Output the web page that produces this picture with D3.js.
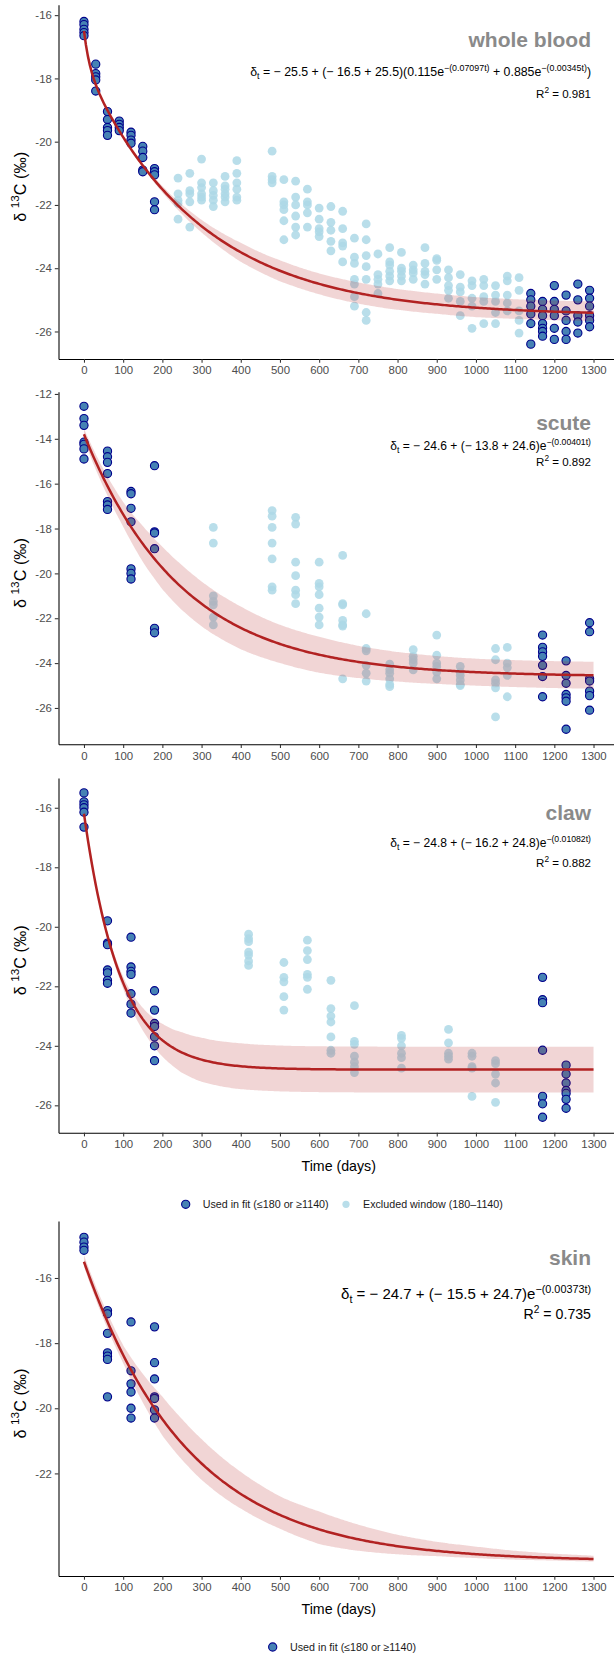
<!DOCTYPE html>
<html>
<head>
<meta charset="utf-8">
<script src="https://cdn.jsdelivr.net/npm/d3@7"></script>
<style>
  body { margin: 0; background: #fff; }
  text { font-family: "Liberation Sans", Arial, Helvetica, sans-serif; white-space: pre; }
</style>
</head>
<body>
<svg id="chart" width="614" height="1656"></svg>
<script>
// ---- data ----
var panelNames = ['whole blood', 'scute', 'claw', 'skin'];
var r2Values = ['0.981', '0.892', '0.882', '0.735'];

// fitted parameters: [asymptote, initial, k1, k2, share1]
var wbFit = [-25.5, -16.5, 0.07097, 0.00345, 0.115];
var scuteFit = [-24.6, -13.8, 0.00401];
var clawFit = [-24.8, -16.2, 0.01082];
var skinFit = [-24.7, -15.5, 0.00373];

// confidence band half widths (upper / lower offsets from the fit)
var bandTimes = [0, 50, 100, 150, 200, 250, 300, 400, 500, 600, 700, 800, 900, 1000, 1100, 1200, 1300];
var wbBandHi = [0.03, 0.03, 0.04, 0.06, 0.1, 0.15, 0.2, 0.3, 0.33, 0.33, 0.34, 0.34, 0.34, 0.33, 0.34, 0.35, 0.36];
var wbBandLo = [0.03, 0.03, 0.04, 0.06, 0.1, 0.15, 0.2, 0.3, 0.33, 0.33, 0.33, 0.32, 0.3, 0.3, 0.28, 0.27, 0.26];
var scuteBandHi = [0.25, 0.4, 0.55, 0.8, 0.95, 1.0, 1.0, 0.95, 0.85, 0.8, 0.72, 0.66, 0.62, 0.6, 0.6, 0.6, 0.6];
var scuteBandLo = [0.25, 0.4, 0.55, 0.8, 0.95, 1.0, 1.0, 0.95, 0.85, 0.8, 0.72, 0.66, 0.62, 0.6, 0.6, 0.6, 0.6];
var clawBandHi = [0.08, 0.1, 0.2, 0.38, 0.55, 0.68, 0.74, 0.77, 0.77, 0.77, 0.77, 0.77, 0.77, 0.77, 0.77, 0.77, 0.77];
var clawBandLo = [0.08, 0.1, 0.2, 0.38, 0.55, 0.68, 0.74, 0.77, 0.77, 0.77, 0.77, 0.77, 0.77, 0.77, 0.77, 0.77, 0.77];
var skinBandHi = [0.2, 0.25, 0.3, 0.5, 0.7, 0.75, 0.75, 0.68, 0.57, 0.55, 0.45, 0.35, 0.28, 0.23, 0.17, 0.13, 0.1];
var skinBandLo = [0.15, 0.2, 0.25, 0.38, 0.5, 0.5, 0.5, 0.45, 0.42, 0.45, 0.35, 0.25, 0.16, 0.12, 0.1, 0.08, 0.08];

var wbTimes = [0, 30, 60, 90, 120, 150, 180, 240, 270, 300, 330, 360, 390, 480, 510, 540, 570, 600, 630, 660, 690,
  720, 750, 780, 810, 840, 870, 900, 930, 960, 990, 1020, 1050, 1080, 1110, 1140, 1170, 1200, 1230, 1260, 1290];
var wbValues = [
  [-16.2, -16.3, -16.45, -16.55, -16.65],
  [-17.55, -17.85, -17.95, -18.05, -18.4],
  [-19.05, -19.3, -19.55, -19.65, -19.8],
  [-19.35, -19.45, -19.55, -19.65],
  [-19.7, -19.8, -19.95, -20.05],
  [-20.15, -20.3, -20.5, -20.9, -20.95],
  [-20.85, -20.95, -21.05, -21.9, -22.15],
  [-21.15, -21.65, -21.85, -21.95, -22.45],
  [-21.0, -21.55, -21.65, -21.9, -22.7],
  [-20.55, -21.3, -21.45, -21.65, -21.75, -21.85],
  [-21.3, -21.55, -21.7, -21.85, -22.05],
  [-21.1, -21.4, -21.5, -21.65, -21.75, -21.9],
  [-20.6, -21.0, -21.3, -21.5, -21.75, -21.85],
  [-20.3, -21.1, -21.2, -21.3],
  [-21.2, -21.9, -22.0, -22.15, -22.5, -23.1],
  [-21.25, -21.75, -22.0, -22.35, -22.7, -22.95],
  [-21.5, -21.9, -22.0, -22.25, -22.7],
  [-22.1, -22.45, -22.75, -22.85, -23.0],
  [-22.05, -22.55, -22.8, -23.15, -23.45],
  [-22.2, -22.75, -23.2, -23.3, -23.8],
  [-23.05, -23.65, -23.85, -24.35, -24.5, -24.9, -25.2],
  [-22.6, -23.1, -23.6, -23.95, -24.35, -25.4, -25.65],
  [-23.55, -24.2, -24.35, -24.5, -24.8],
  [-23.35, -23.8, -23.9, -24.1, -24.25, -24.4],
  [-23.5, -24.0, -24.1, -24.25, -24.4],
  [-23.9, -24.05, -24.15, -24.35],
  [-23.35, -23.85, -24.1, -24.2, -24.5],
  [-23.7, -23.75, -24.05, -24.35],
  [-24.05, -24.3, -24.55, -24.7, -24.95],
  [-24.2, -24.6, -24.75, -25.05, -25.5],
  [-24.4, -24.55, -24.95, -25.2, -25.9],
  [-24.35, -24.55, -24.9, -25.05, -25.75],
  [-24.55, -24.85, -25.05, -25.4, -25.75],
  [-24.25, -24.4, -24.85, -25.1, -25.35],
  [-24.3, -24.7, -25.35, -25.65, -26.05],
  [-24.8, -25.0, -25.2, -25.45, -25.75, -26.4],
  [-25.05, -25.3, -25.5, -25.75, -25.9, -26.0, -26.15],
  [-24.55, -25.05, -25.3, -25.5, -25.9, -26.25],
  [-24.85, -25.35, -25.65, -26.0, -26.25],
  [-24.5, -25.0, -25.5, -25.7, -26.05],
  [-24.7, -24.95, -25.2, -25.5, -25.65, -25.85]
];

var scuteTimes = [0, 60, 120, 180, 330, 480, 540, 600, 660, 720, 780, 840, 900, 960, 1050, 1080, 1170, 1230, 1290];
var scuteValues = [
  [-12.55, -13.1, -13.4, -14.15, -14.25, -14.45, -14.9],
  [-14.55, -14.8, -15.05, -15.55, -16.8, -16.95, -17.15],
  [-16.35, -16.45, -17.1, -17.7, -19.8, -20.0, -20.25],
  [-15.2, -18.15, -18.2, -18.9, -22.45, -22.65],
  [-17.95, -18.65, -21.0, -21.25, -21.4, -21.95, -22.3],
  [-17.2, -17.45, -17.95, -18.65, -19.35, -20.6, -20.75],
  [-17.5, -17.8, -19.5, -20.1, -20.75, -20.95, -21.35],
  [-19.5, -20.45, -20.6, -20.95, -21.55, -21.95, -22.3],
  [-19.2, -21.35, -21.4, -22.1, -22.3, -22.35, -24.7],
  [-21.8, -23.35, -23.45, -24.1, -24.45, -24.8],
  [-24.05, -24.3, -24.45, -24.7, -24.95, -25.05],
  [-23.4, -23.7, -23.85, -24.0, -24.3],
  [-22.75, -23.65, -24.0, -24.15, -24.4, -24.7],
  [-24.15, -24.4, -24.55, -24.75, -24.95, -25.0],
  [-23.35, -23.85, -24.75, -24.9, -25.1, -26.4],
  [-23.3, -24.0, -24.2, -24.55, -25.5],
  [-22.75, -23.3, -23.5, -23.7, -24.1, -24.6, -25.5],
  [-23.9, -24.55, -24.9, -25.4, -25.55, -25.7, -26.95],
  [-22.2, -22.6, -24.7, -24.8, -25.25, -25.45, -26.1]
];

var clawTimes = [0, 60, 120, 180, 420, 510, 570, 630, 690, 810, 930, 990, 1050, 1170, 1230];
var clawValues = [
  [-15.5, -15.8, -15.9, -16.0, -16.15, -16.65],
  [-19.8, -20.55, -20.6, -21.45, -21.55, -21.8, -21.9],
  [-20.35, -21.35, -21.5, -21.6, -22.25, -22.6, -22.9],
  [-22.15, -22.8, -23.25, -23.35, -23.7, -24.0, -24.5],
  [-20.25, -20.4, -20.5, -20.85, -20.95, -21.15, -21.3],
  [-21.2, -21.7, -21.85, -22.35, -22.8],
  [-20.45, -20.8, -21.1, -21.6, -21.7, -22.1],
  [-21.8, -22.75, -23.0, -23.2, -23.7, -24.15, -24.25],
  [-22.65, -23.85, -23.95, -24.35, -24.55, -24.7, -24.9],
  [-23.65, -23.75, -24.0, -24.25, -24.4, -24.75],
  [-23.45, -23.9, -24.25, -24.35, -24.45],
  [-24.25, -24.35, -24.7, -24.75, -25.7],
  [-24.5, -24.6, -24.95, -25.25, -25.9],
  [-21.7, -22.45, -22.55, -24.15, -25.7, -25.95, -26.4],
  [-24.65, -24.95, -25.25, -25.5, -25.6, -25.8, -26.1]
];

var skinTimes = [0, 60, 120, 180];
var skinValues = [
  [-14.75, -14.9, -15.05, -15.15],
  [-17.0, -17.1, -17.7, -18.3, -18.4, -18.5, -19.65],
  [-17.35, -18.85, -19.25, -19.5, -20.0, -20.3],
  [-17.5, -18.6, -19.1, -19.65, -19.7, -20.05, -20.3]
];

var xTicks = d3.range(0, 1301, 100);
var yTicks = [
  [-26, -24, -22, -20, -18, -16],
  [-26, -24, -22, -20, -18, -16, -14, -12],
  [-26, -24, -22, -20, -18, -16],
  [-22, -20, -18, -16]
];
var yDomains = [[-26.87, -15.67], [-27.62, -11.9], [-26.92, -15.0], [-25.15, -14.25]];

// fit functions built from the printed equations
function oneExp(p) {
  return function (t) { return p[0] + (p[1] - p[0]) * Math.exp(-p[2] * t); };
}
function twoExp(p) {
  return function (t) {
    return p[0] + (p[1] - p[0]) * (p[4] * Math.exp(-p[2] * t) + (1 - p[4]) * Math.exp(-p[3] * t));
  };
}

// equation text pieces: [text, kind]
var eqParts = [
  [['δ', 'n'], ['t', 'sub'], [' = \u2212 25.5 + (\u2212 16.5 + 25.5)(0.115e', 'n'], ['\u2212(0.07097t)', 'sup'],
   [' + 0.885e', 'n'], ['\u2212(0.00345t)', 'sup'], [')', 'n']],
  [['δ', 'n'], ['t', 'sub'], [' = \u2212 24.6 + (\u2212 13.8 + 24.6)e', 'n'], ['\u2212(0.00401t)', 'sup']],
  [['δ', 'n'], ['t', 'sub'], [' = \u2212 24.8 + (\u2212 16.2 + 24.8)e', 'n'], ['\u2212(0.01082t)', 'sup']],
  [['δ', 'n'], ['t', 'sub'], [' = \u2212 24.7 + (\u2212 15.5 + 24.7)e', 'n'], ['\u2212(0.00373t)', 'sup']]
];

var panels = [
  { times: wbTimes, values: wbValues, f: twoExp(wbFit), hi: wbBandHi, lo: wbBandLo,
    top: 4.7, bottom: 359, titleY: 46.7, eqY: 76, r2Y: 97.7, eqW: 341, r2W: 55, xTitle: false },
  { times: scuteTimes, values: scuteValues, f: oneExp(scuteFit), hi: scuteBandHi, lo: scuteBandLo,
    top: 391.7, bottom: 744.3, titleY: 430, eqY: 450, r2Y: 465.5, eqW: 201, r2W: 55, xTitle: false },
  { times: clawTimes, values: clawValues, f: oneExp(clawFit), hi: clawBandHi, lo: clawBandLo,
    top: 778, bottom: 1132.7, titleY: 820, eqY: 847, r2Y: 866.7, eqW: 201, r2W: 55, xTitle: true },
  { times: skinTimes, values: skinValues, f: oneExp(skinFit), hi: skinBandHi, lo: skinBandLo,
    top: 1221, bottom: 1576, titleY: 1265, eqY: 1299, r2Y: 1319, eqW: 250, r2W: 67.5, xTitle: true }
];

var svg = d3.select('#chart');
var x = d3.scaleLinear().domain([-65, 1365]).range([58.5, 619]);

// text built from pieces (sub/superscripts), sized so it spans a given width
function richText(parent, parts, xPos, yPos, width, anchor) {
  var t = parent.append('text')
    .attr('x', xPos).attr('y', yPos)
    .attr('text-anchor', anchor || 'end')
    .style('fill', '#000');
  function fill(size) {
    t.selectAll('tspan').remove();
    var shift = 0;
    parts.forEach(function (pt) {
      var target = pt[1] === 'sup' ? -0.42 * size : (pt[1] === 'sub' ? 0.28 * size : 0);
      t.append('tspan')
        .attr('dy', target - shift)
        .style('font-size', (pt[1] === 'n' ? size : size * 0.72) + 'px')
        .text(pt[0]);
      shift = target;
    });
  }
  fill(10);
  var w = t.node().getComputedTextLength();
  fill(10 * width / w);
  return t;
}

function fitText(sel, width) {
  var w = sel.node().getComputedTextLength();
  var s = parseFloat(sel.style('font-size'));
  sel.style('font-size', (s * width / w) + 'px');
}

var fineT = d3.range(0, 1301, 5);

panels.forEach(function (p, pi) {
  var y = d3.scaleLinear().domain(yDomains[pi]).range([p.bottom, p.top]);
  var g = svg.append('g').attr('class', 'panel');

  var pts = [];
  p.times.forEach(function (t, i) {
    p.values[i].forEach(function (v) {
      pts.push({ t: t, v: v, used: (t <= 180 || t >= 1140) });
    });
  });

  // excluded window points
  g.selectAll('circle.excluded')
    .data(pts.filter(function (d) { return !d.used; }))
    .enter().append('circle')
      .attr('class', 'excluded')
      .attr('cx', function (d) { return x(d.t); })
      .attr('cy', function (d) { return y(d.v); })
      .attr('r', 4.4)
      .style('fill', '#add8e6')
      .style('fill-opacity', 0.85);

  // points used in the fit
  g.selectAll('circle.used')
    .data(pts.filter(function (d) { return d.used; }))
    .enter().append('circle')
      .attr('class', 'used')
      .attr('cx', function (d) { return x(d.t); })
      .attr('cy', function (d) { return y(d.v); })
      .attr('r', 4.1)
      .style('fill', '#4682b4')
      .style('stroke', '#00008b')
      .style('stroke-width', 1.1);

  // confidence ribbon
  var hiS = d3.scaleLinear().domain(bandTimes).range(p.hi);
  var loS = d3.scaleLinear().domain(bandTimes).range(p.lo);
  var area = d3.area()
    .x(function (t) { return x(t); })
    .y0(function (t) { return y(p.f(t) - loS(t)); })
    .y1(function (t) { return y(p.f(t) + hiS(t)); })
    .curve(d3.curveBasis);
  g.append('path')
    .datum(fineT)
    .attr('d', area)
    .style('fill', '#b22222')
    .style('fill-opacity', 0.19);

  // fitted line
  var line = d3.line()
    .x(function (t) { return x(t); })
    .y(function (t) { return y(p.f(t)); });
  g.append('path')
    .datum(fineT)
    .attr('d', line)
    .style('fill', 'none')
    .style('stroke', '#b22222')
    .style('stroke-width', 2.5);

  // axes
  var yAxis = g.append('g')
    .attr('transform', 'translate(' + x.range()[0] + ',0)')
    .call(d3.axisLeft(y).tickValues(yTicks[pi]).tickSize(3.7).tickSizeOuter(0).tickPadding(3)
      .tickFormat(function (d) { return String(d); }));
  var xAxis = g.append('g')
    .attr('transform', 'translate(0,' + p.bottom + ')')
    .call(d3.axisBottom(x).tickValues(xTicks).tickSize(3.7).tickSizeOuter(0).tickPadding(3.6)
      .tickFormat(function (d) { return String(d); }));
  [yAxis, xAxis].forEach(function (ax) {
    ax.select('.domain').style('stroke', '#000').style('stroke-width', 1.07);
    ax.selectAll('.tick line').style('stroke', '#333').style('stroke-width', 1.07);
    ax.selectAll('.tick text')
      .style('fill', '#4d4d4d')
      .style('font-size', '11.4px')
      .style('font-family', '"Liberation Sans", Arial, sans-serif');
  });

  // y axis title
  var yl = richText(g, [['δ ', 'n'], ['13', 'sup'], ['C (‰)', 'n']], 0, 0, 70, 'middle');
  yl.attr('transform', 'translate(26,' + ((p.top + p.bottom) / 2 + 5) + ') rotate(-90)');

  if (p.xTitle) {
    g.append('text')
      .attr('x', (x.range()[0] + x.range()[1]) / 2)
      .attr('y', p.bottom + 38)
      .attr('text-anchor', 'middle')
      .style('font-size', '14.2px')
      .style('fill', '#000')
      .text('Time (days)');
  }

  // panel annotation
  g.append('text')
    .attr('x', 591).attr('y', p.titleY)
    .attr('text-anchor', 'end')
    .style('font-size', '21px')
    .style('font-weight', 'bold')
    .style('fill', '#8a8a8a')
    .text(panelNames[pi]);
  richText(g, eqParts[pi], 591, p.eqY, p.eqW, 'end');
  richText(g, [['R', 'n'], ['2', 'sup'], [' = ' + r2Values[pi], 'n']], 591, p.r2Y, p.r2W, 'end');
});

// legends
function legend(yc, items) {
  var lg = svg.append('g').attr('class', 'legend');
  items.forEach(function (it) {
    var c = lg.append('circle').attr('cx', it.cx).attr('cy', yc);
    if (it.used) {
      c.attr('r', 4.1).style('fill', '#4682b4').style('stroke', '#00008b').style('stroke-width', 1.1);
    } else {
      c.attr('r', 3.6).style('fill', '#add8e6').style('fill-opacity', 0.85);
    }
    var tx = lg.append('text')
      .attr('x', it.tx).attr('y', yc + 3.5)
      .style('font-size', '9.5px')
      .style('fill', '#1a1a1a')
      .text(it.label);
    fitText(tx, it.w);
  });
}
legend(1204.3, [
  { cx: 185.7, tx: 202.7, w: 126, used: true, label: 'Used in fit (\u2264180 or \u22651140)' },
  { cx: 346, tx: 363, w: 140, used: false, label: 'Excluded window (180\u20131140)' }
]);
legend(1647, [
  { cx: 272.7, tx: 290, w: 126, used: true, label: 'Used in fit (\u2264180 or \u22651140)' }
]);
</script>
</body>
</html>
